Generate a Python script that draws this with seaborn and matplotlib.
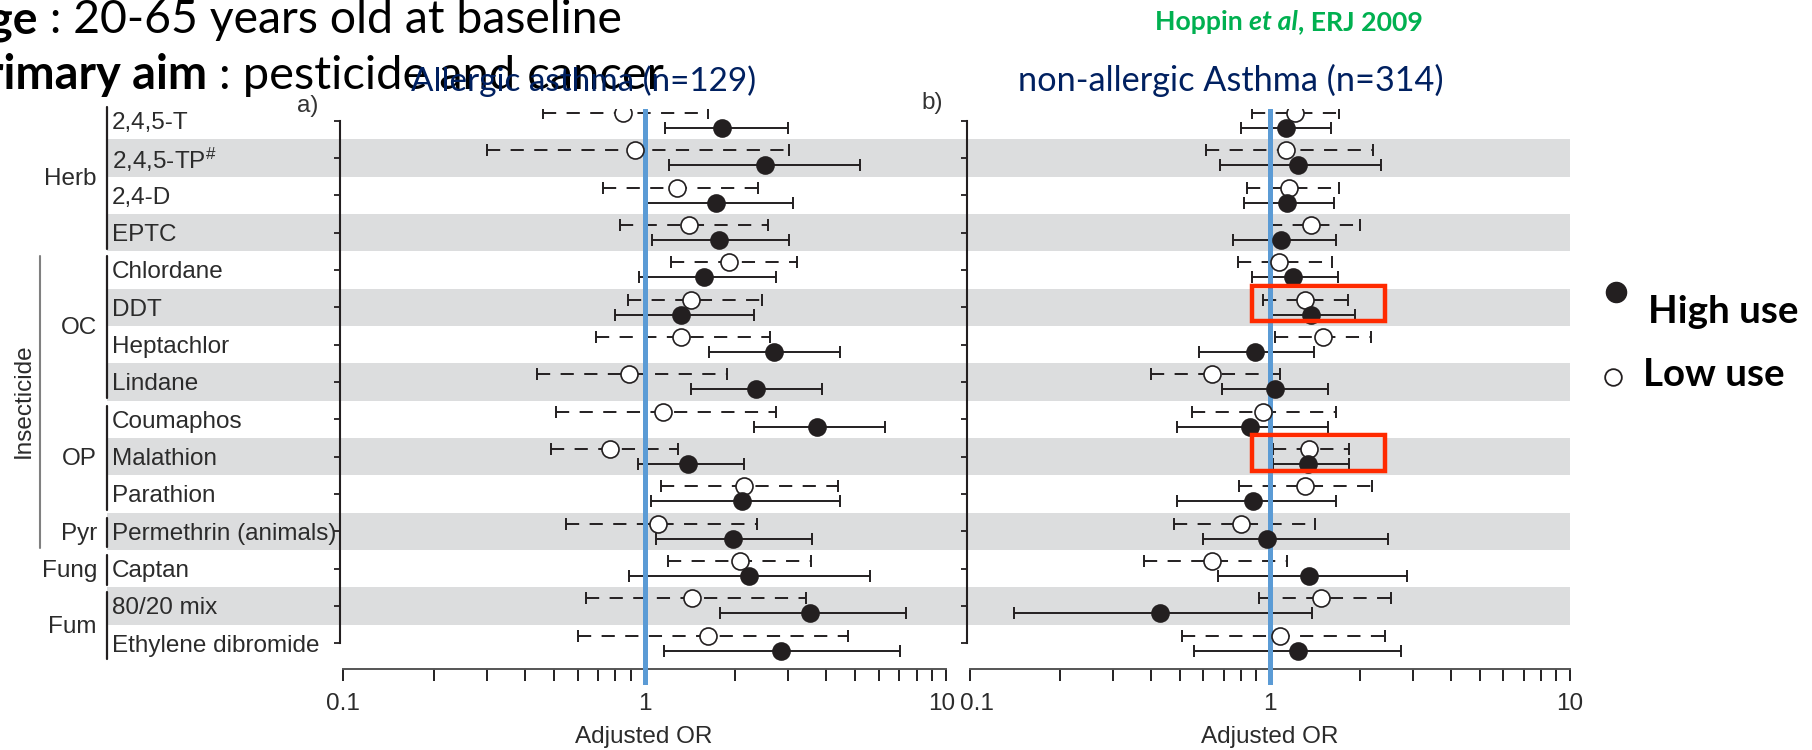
import numpy as np
import pandas as pd
import seaborn as sns
import matplotlib
matplotlib.use("Agg")
import matplotlib.pyplot as plt
from matplotlib.transforms import blended_transform_factory, ScaledTranslation
from matplotlib.patches import Rectangle
from matplotlib.lines import Line2D
from matplotlib.ticker import NullFormatter

# ---------------- data ----------------
pesticides = ["2,4,5-T", "2,4,5-TP", "2,4-D", "EPTC", "Chlordane", "DDT", "Heptachlor",
              "Lindane", "Coumaphos", "Malathion", "Parathion", "Permethrin (animals)",
              "Captan", "80/20 mix", "Ethylene dibromide"]
name_notes = ["", "#", "", "", "", "", "", "", "", "", "", "", "", "", ""]

subclass_labels = ["Herb", "OC", "OP", "Pyr", "Fung", "Fum"]
subclass_first = [0, 4, 8, 11, 12, 13]
subclass_last = [3, 7, 10, 11, 12, 14]
class_labels = ["Insecticide"]
class_first = [4]
class_last = [11]

# a) allergic asthma
allergic_low_or = [0.85, 0.93, 1.28, 1.41, 1.91, 1.43, 1.32, 0.89, 1.15, 0.77, 2.14, 1.11, 2.07, 1.44, 1.62]
allergic_low_lo = [0.46, 0.30, 0.73, 0.83, 1.22, 0.88, 0.69, 0.44, 0.51, 0.49, 1.13, 0.55, 1.20, 0.64, 0.60]
allergic_low_hi = [1.63, 3.01, 2.38, 2.57, 3.21, 2.45, 2.61, 1.88, 2.73, 1.29, 4.38, 2.36, 3.58, 3.43, 4.72]
allergic_high_or = [1.81, 2.51, 1.73, 1.77, 1.58, 1.32, 2.68, 2.34, 3.74, 1.39, 2.10, 1.96, 2.22, 3.55, 2.83]
allergic_high_lo = [1.17, 1.21, 1.01, 1.06, 0.96, 0.80, 1.64, 1.43, 2.30, 0.95, 1.05, 1.09, 0.89, 1.78, 1.16]
allergic_high_hi = [2.99, 5.19, 3.11, 3.01, 2.73, 2.30, 4.45, 3.87, 6.26, 2.13, 4.45, 3.60, 5.61, 7.34, 7.05]

# b) non-allergic asthma
nonallergic_low_or = [1.21, 1.13, 1.16, 1.37, 1.07, 1.31, 1.50, 0.64, 0.95, 1.35, 1.31, 0.80, 0.64, 1.48, 1.08]
nonallergic_low_lo = [0.87, 0.61, 0.84, 0.99, 0.78, 0.95, 1.04, 0.40, 0.55, 1.02, 0.79, 0.48, 0.38, 0.92, 0.51]
nonallergic_low_hi = [1.70, 2.20, 1.70, 2.00, 1.61, 1.82, 2.17, 1.08, 1.66, 1.83, 2.19, 1.41, 1.14, 2.54, 2.42]
nonallergic_high_or = [1.13, 1.24, 1.14, 1.09, 1.19, 1.37, 0.89, 1.04, 0.86, 1.34, 0.88, 0.98, 1.35, 0.43, 1.24]
nonallergic_high_lo = [0.80, 0.68, 0.82, 0.75, 0.87, 1.01, 0.58, 0.69, 0.49, 1.02, 0.49, 0.60, 0.67, 0.14, 0.56]
nonallergic_high_hi = [1.60, 2.34, 1.64, 1.66, 1.69, 1.92, 1.40, 1.56, 1.56, 1.83, 1.66, 2.48, 2.87, 1.38, 2.74]

highlight_rows = ["DDT", "Malathion"]
highlight_or_span = [0.87, 2.42]

x_major = [0.1, 1, 10]
x_major_labels = ["0.1", "1", "10"]
x_minor = [0.2, 0.3, 0.4, 0.5, 0.6, 0.7, 0.8, 0.9, 2, 3, 4, 5, 6, 7, 8, 9]

panel_titles = ["Allergic asthma (n=129)", "non-allergic Asthma (n=314)"]
panel_tags = ["a)", "b)"]
legend_labels = ["High use", "Low use"]
x_label = "Adjusted OR"
header_1 = ("Age", " : 20-65 years old at baseline")
header_2 = ("Primary aim", " : pesticide and cancer")
citation = [("Hoppin ", "normal"), ("et al", "italic"), (", ERJ 2009", "normal")]

# ---------------- style ----------------
W, H = 1812, 750
INK = "#231f20"
LABEL = "#2b2b2b"
BAND = "#dcddde"
BLUE = "#5b9bd5"
RED = "#ff2a00"
NAVY = "#002060"
GREEN = "#00b050"
SANS = ["Liberation Sans", "DejaVu Sans"]
BODY = ["Lato", "DejaVu Sans"]
FS = 17.5

sns.set_theme(style="white")
plt.rcParams["font.family"] = SANS
plt.rcParams["lines.scale_dashes"] = False
plt.rcParams["mathtext.fontset"] = "custom"
plt.rcParams["mathtext.rm"] = "Liberation Sans"
plt.rcParams["mathtext.it"] = "Liberation Sans:italic"
plt.rcParams["mathtext.bf"] = "Liberation Sans:bold"

fig = plt.figure(figsize=(W / 100, H / 100), dpi=100)
R = fig.canvas.get_renderer()


def px_axes(l, r, t, b):
    return fig.add_axes([l / W, 1 - b / H, (r - l) / W, (b - t) / H])


ROW0, ROWH = 120.5, 37.34        # pixel row layout
TOP, BOT = 109, 685              # axes top / bottom in px
AXIS_Y = 669                      # x-axis line position in px
n = len(pesticides)
rows = np.arange(n)
ylim = (n - 1 + (BOT - (ROW0 + (n - 1) * ROWH)) / ROWH, -(ROW0 - TOP) / ROWH)
axis_row = (AXIS_Y - ROW0) / ROWH

panels = [
    dict(frame=(340, 948), p01=343, p10=946, band=(107, 967), nudge=(None, -4),
         low=(allergic_low_or, allergic_low_lo, allergic_low_hi),
         high=(allergic_high_or, allergic_high_lo, allergic_high_hi)),
    dict(frame=(967, 1572), p01=970, p10=1570, band=(967, 1570), nudge=(0, 7),
         low=(nonallergic_low_or, nonallergic_low_lo, nonallergic_low_hi),
         high=(nonallergic_high_or, nonallergic_high_lo, nonallergic_high_hi)),
]

axes = []
for P in panels:
    l, r = P["frame"]
    ax = px_axes(l, r, TOP, BOT)
    axes.append(ax)
    ax.set_facecolor("none")
    ax.set_xscale("log")
    dec = (P["p10"] - P["p01"]) / 2.0
    ax.set_xlim(10 ** (-1 - (P["p01"] - l) / dec), 10 ** (1 + (r - P["p10"]) / dec))
    ax.set_ylim(*ylim)

    bx0 = (P["band"][0] - l) / (r - l)
    bx1 = (P["band"][1] - l) / (r - l)
    for i in rows[1::2]:
        ax.axhspan(i - 0.5, i + 0.5, xmin=bx0, xmax=bx1, color=BAND, lw=0, zorder=0, clip_on=False)

    for (orr, lo, hi), dy, ls, fill in [(P["low"], -0.2, (0, (9.5, 7.5)), "white"),
                                        (P["high"], 0.2, "solid", INK)]:
        orr, lo, hi = np.asarray(orr), np.asarray(lo), np.asarray(hi)
        eb = ax.errorbar(orr, rows + dy, xerr=[orr - lo, hi - orr], fmt="none", ecolor=INK,
                         elinewidth=1.4, capsize=4.0, capthick=1.4, zorder=2)
        eb[2][0].set_linestyle(ls)
        df = pd.DataFrame({"OR": orr, "row": rows + dy})
        sns.scatterplot(data=df, x="OR", y="row", ax=ax, s=150, color=fill, edgecolor=INK,
                        linewidth=1.2, zorder=4, legend=False)

    ax.axvline(1, color=BLUE, lw=3.6, zorder=3)

    ax.spines["top"].set_visible(False)
    ax.spines["right"].set_visible(False)
    ax.spines["left"].set_bounds(0, n - 1)
    ax.spines["left"].set_color(INK)
    ax.spines["left"].set_linewidth(1.5)
    ax.spines["bottom"].set_bounds(0.1, 10)
    ax.spines["bottom"].set_position(("data", axis_row))
    ax.spines["bottom"].set_color("#555555")
    ax.spines["bottom"].set_linewidth(1.4)

    ax.set_yticks(rows)
    ax.set_yticklabels([])
    ax.tick_params(axis="y", left=True, direction="out", length=4.3, width=1.3, color=INK)
    ax.set_xticks(x_major)
    ax.set_xticklabels(x_major_labels)
    ax.set_xticks(x_minor, minor=True)
    ax.xaxis.set_minor_formatter(NullFormatter())
    ax.tick_params(axis="x", which="both", bottom=True, direction="out", length=8.6, width=1.4,
                   color=INK, labelsize=FS, labelcolor=LABEL, pad=8.5)
    ax.set_xlabel(x_label, fontsize=FS, color=LABEL, labelpad=8)
    ax.set_ylabel("")

    # keep the touching "10" / "0.1" labels of neighbouring panels apart
    idx, dx = P["nudge"]
    if idx is not None:
        lab = ax.get_xticklabels()[idx]
        lab.set_transform(lab.get_transform() + ScaledTranslation(dx / 100, 0, fig.dpi_scale_trans))
    lab_last = ax.get_xticklabels()[-1]
    if P["nudge"][0] is None:
        lab_last.set_transform(lab_last.get_transform() + ScaledTranslation(dx / 100, 0, fig.dpi_scale_trans))

ax_a, ax_b = axes

# red highlight boxes (panel b)
for name in highlight_rows:
    r = pesticides.index(name)
    ax_b.add_patch(Rectangle((highlight_or_span[0], r - 0.57), highlight_or_span[1] - highlight_or_span[0],
                             0.95, fill=False, ec=RED, lw=3.2, zorder=6))

# row labels, group brackets
tr = blended_transform_factory(fig.transFigure, ax_a.transData)
for i, (name, note) in enumerate(zip(pesticides, name_notes)):
    label = name + (r"$^{\%s}$" % note if note else "")
    ax_a.text(112 / W, i, label, transform=tr, ha="left", va="center_baseline", fontsize=FS, color=LABEL)
for lab, a, b in zip(subclass_labels, subclass_first, subclass_last):
    ax_a.add_line(Line2D([107 / W, 107 / W], [a - 0.36, b + 0.43], transform=tr, color=INK,
                         lw=1.6, clip_on=False))
    ax_a.text(97 / W, (a + b) / 2, lab, transform=tr, ha="right", va="center_baseline", fontsize=FS,
              color=LABEL)
for lab, a, b in zip(class_labels, class_first, class_last):
    ax_a.add_line(Line2D([40 / W, 40 / W], [a - 0.38, b + 0.45], transform=tr, color="#808080",
                         lw=1.5, clip_on=False))
    ax_a.text(24 / W, (a + b) / 2, lab, transform=tr, ha="center", va="center", rotation=90,
              fontsize=FS, color=LABEL)

# panel tags
fig.text(308 / W, 1 - 106 / H, panel_tags[0], ha="center", va="center", fontsize=FS, color="#333333")
fig.text(932 / W, 1 - 103 / H, panel_tags[1], ha="center", va="center", fontsize=FS, color="#333333")


# ---------------- slide text ----------------
def measure(s, size, **kw):
    t = fig.text(0, 0, s, fontsize=size, **kw)
    w = t.get_window_extent(R).width
    t.remove()
    return w


def fit(s, width, **kw):
    return 30 * width / measure(s, 30, **kw)


# header lines: bold part right-aligned at split, regular part fitted to width
for (bold, reg), split, right, base in [(header_1, 38, 622, 33), (header_2, 207, 663, 89)]:
    size = fit(reg, right - split, family=BODY)
    fig.text(split / W, 1 - base / H, bold, ha="right", va="baseline", fontsize=size,
             family=BODY, weight="bold", color="black")
    fig.text(split / W, 1 - base / H, reg, ha="left", va="baseline", fontsize=size,
             family=BODY, color="black")

# panel titles
for title, (x0, x1) in zip(panel_titles, [(411, 756), (1018, 1443)]):
    size = fit(title, x1 - x0, family=BODY)
    fig.text((x0 + x1) / 2 / W, 1 - 91 / H, title, ha="center", va="baseline", fontsize=size,
             family=BODY, color=NAVY)

# citation
tot = sum(measure(s, 30, family=BODY, weight="bold", style=st) for s, st in citation)
csize = 30 * (1422 - 1155) / tot
x = 1155
for s, st in citation:
    w = measure(s, csize, family=BODY, weight="bold", style=st)
    fig.text(x / W, 1 - 30 / H, s, ha="left", va="baseline", fontsize=csize, family=BODY,
             weight="bold", style=st, color=GREEN)
    x += w

# legend
lsize = fit(legend_labels[0], 150, family=BODY, weight="bold")
fig.add_artist(Line2D([1616 / W], [1 - 292 / H], marker="o", ms=14.5, color=INK, ls="none",
                      transform=fig.transFigure))
fig.add_artist(Line2D([1613 / W], [1 - 377 / H], marker="o", ms=12, mfc="white", mec=INK, mew=1.3,
                      ls="none", transform=fig.transFigure))
fig.text(1648 / W, 1 - 323 / H, legend_labels[0], ha="left", va="baseline", fontsize=lsize,
         family=BODY, weight="bold", color="black")
fig.text(1643 / W, 1 - 386 / H, legend_labels[1], ha="left", va="baseline", fontsize=lsize,
         family=BODY, weight="bold", color="black")

fig.savefig("out.png", dpi=100)
